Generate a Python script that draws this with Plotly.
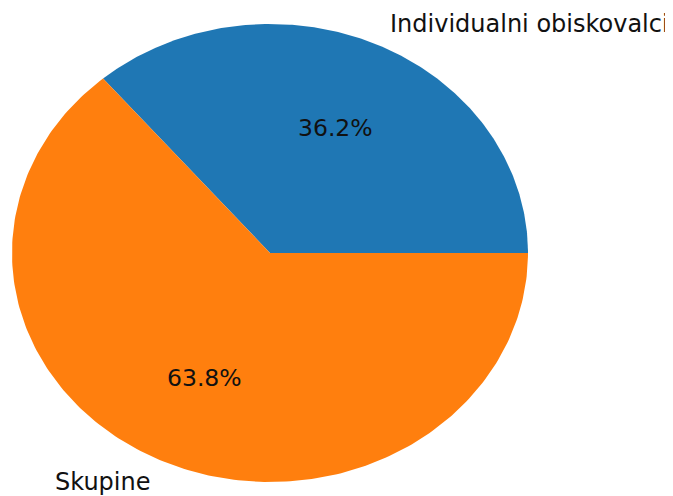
import numpy as np
import plotly.graph_objects as go

labels = ["Individualni obiskovalci", "Skupine"]
values = [36.2, 63.8]
colors = ["#1f77b4", "#ff7f0e"]

fig = go.Figure()
total = sum(values)
start = 0.0
for lab, val, col in zip(labels, values, colors):
    span = 360.0 * val / total
    th = np.radians(np.linspace(start, start + span, 240))
    xs = np.concatenate([[0], np.cos(th), [0]])
    ys = np.concatenate([[0], np.sin(th), [0]])
    fig.add_trace(go.Scatter(x=xs, y=ys, fill="toself", fillcolor=col, mode="lines",
                             line=dict(width=0, color=col), hoverinfo="skip", showlegend=False))
    mid = np.radians(start + span / 2)
    lx, ly = 1.1 * np.cos(mid), 1.1 * np.sin(mid)
    fig.add_annotation(x=lx, y=ly, text=lab, showarrow=False,
                       xanchor="left" if lx > 0 else "right", yanchor="middle",
                       borderpad=0,
                       font=dict(family="DejaVu Sans", size=24, color="#111"))
    fig.add_annotation(x=0.6 * np.cos(mid), y=0.6 * np.sin(mid), text=f"{val:.1f}%",
                       showarrow=False, xanchor="center", yanchor="middle",
                       font=dict(family="DejaVu Sans", size=23.5, color="#111"))
    start += span

fig.update_layout(
    width=665, height=488,
    margin=dict(l=0, r=0, t=0, b=0),
    paper_bgcolor="white", plot_bgcolor="white",
    xaxis=dict(range=[-262 / 258, 403 / 258], visible=False, fixedrange=True),
    yaxis=dict(range=[-243 / 229, 245 / 229], visible=False, fixedrange=True),
)
fig.write_html("out.html")
